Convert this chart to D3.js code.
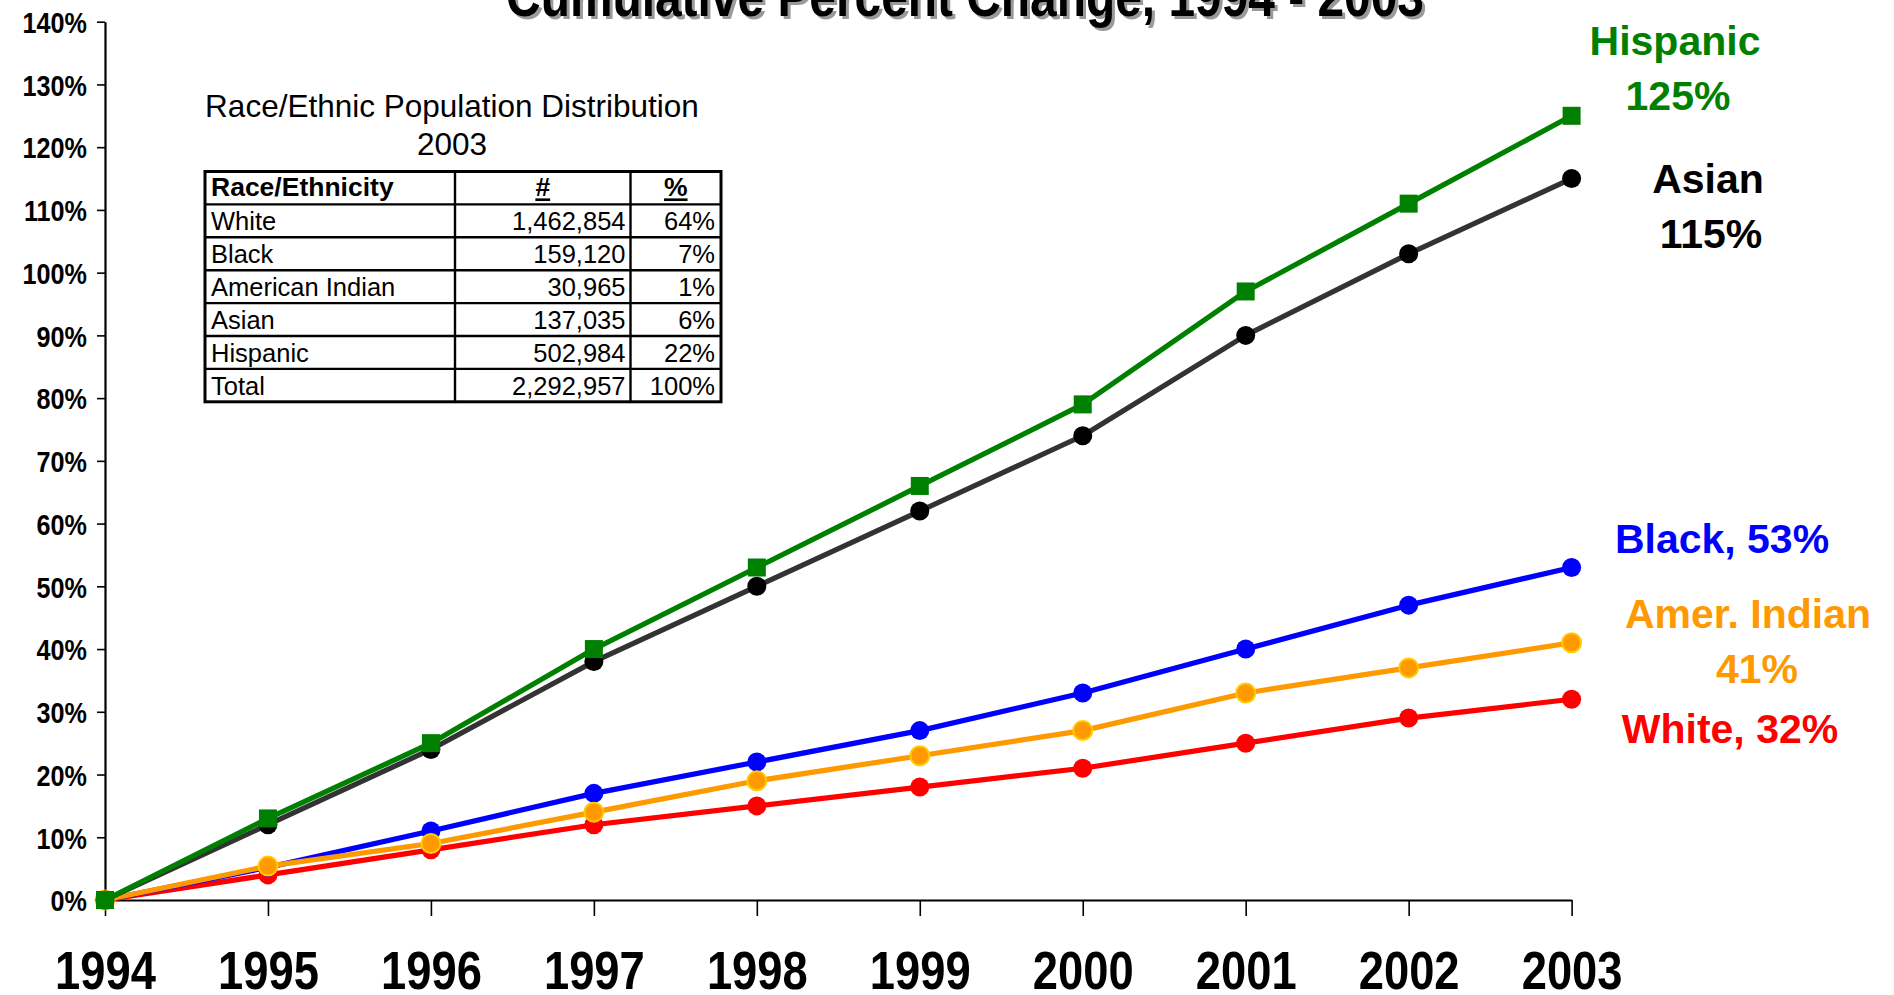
<!DOCTYPE html>
<html>
<head>
<meta charset="utf-8">
<script src="https://cdn.jsdelivr.net/npm/d3@7"></script>
<style>
  html, body { margin: 0; padding: 0; background: #fff; }
  svg { display: block; }
  text { font-family: "Liberation Sans", Arial, sans-serif; }
</style>
</head>
<body>
<svg id="chart" width="1894" height="995"></svg>
<script>
// ---------------- DATA ----------------
const years = ["1994","1995","1996","1997","1998","1999","2000","2001","2002","2003"];
const hispanic    = [0, 13, 25, 40, 53, 66, 79, 97, 111, 125];
const asian       = [0, 12, 24, 38, 50, 62, 74, 90, 103, 115];
const black       = [0, 5.2, 11, 17, 22, 27, 33, 40, 47, 53];
const amerIndian  = [0, 5.4, 9, 14, 19, 23, 27, 33, 37, 41];
const white       = [0, 4, 8, 12, 15, 18, 21, 25, 29, 32];
const yTicks      = [0, 10, 20, 30, 40, 50, 60, 70, 80, 90, 100, 110, 120, 130, 140];

const chartTitle  = "Cumulative Percent Change, 1994 - 2003";
const tableTitle  = ["Race/Ethnic Population Distribution", "2003"];
const tableHeader = ["Race/Ethnicity", "#", "%"];
const tableGroups = ["White", "Black", "American Indian", "Asian", "Hispanic", "Total"];
const tableCounts = ["1,462,854", "159,120", "30,965", "137,035", "502,984", "2,292,957"];
const tablePcts   = ["64%", "7%", "1%", "6%", "22%", "100%"];

const seriesNames  = ["White", "Black", "Amer. Indian", "Asian", "Hispanic"];
const seriesValues = [white, black, amerIndian, asian, hispanic];
const seriesLabels = [["White, 32%"], ["Black, 53%"], ["Amer. Indian", "41%"], ["Asian", "115%"], ["Hispanic", "125%"]];

// ---------------- STYLE / LAYOUT ----------------
const styles = {
  "White":        {line: "#FF0000", fill: "#FF0000", stroke: "#FF0000", marker: "circle", text: "#FF0000"},
  "Black":        {line: "#0000FF", fill: "#0000FF", stroke: "#0000FF", marker: "circle", text: "#0000FF"},
  "Amer. Indian": {line: "#FF9900", fill: "#FF9900", stroke: "#FFCC00", marker: "circle", text: "#FF9900"},
  "Asian":        {line: "#333333", fill: "#000000", stroke: "#000000", marker: "circle", text: "#000000"},
  "Hispanic":     {line: "#008000", fill: "#008000", stroke: "#008000", marker: "square", text: "#008000"}
};
const labelLayout = {
  "White":        [{x: 1730, y: 743}],
  "Black":        [{x: 1722, y: 553}],
  "Amer. Indian": [{x: 1748, y: 628}, {x: 1757, y: 683}],
  "Asian":        [{x: 1708, y: 193}, {x: 1711, y: 248}],
  "Hispanic":     [{x: 1675, y: 55},  {x: 1678, y: 110}]
};

const svg = d3.select("#chart");
const X0 = 105, X1 = 1571.6, Y0 = 900, Y1 = 21.7;
const SQX = 0.84; // horizontal squeeze for x-axis / title fonts
const SQY = 0.84; // horizontal squeeze for y-axis fonts

const x = d3.scalePoint().domain(years).range([X0, X1]);
const y = d3.scaleLinear().domain([0, 140]).range([Y0, Y1]);

// ---- Title (with shadow) ----
const titleG = svg.append("g");
[["#9a9a9a", 3], ["#000", 0]].forEach(([c, o]) => {
  titleG.append("text")
    .attr("transform", `translate(${965 + o},${16 + o}) scale(${SQX},1)`)
    .attr("text-anchor", "middle")
    .attr("font-weight", "bold")
    .attr("font-size", 57)
    .attr("fill", c)
    .text(chartTitle);
});

// ---- Axes ----
const yAxis = svg.append("g")
  .attr("transform", `translate(${X0},0)`)
  .call(d3.axisLeft(y).tickValues(yTicks).tickSize(8).tickSizeOuter(0).tickFormat(d => d + "%"));
yAxis.select(".domain").attr("stroke", "#000").attr("stroke-width", 2.2);
yAxis.selectAll(".tick line").attr("stroke", "#000").attr("stroke-width", 1.6);
yAxis.selectAll(".tick text")
  .attr("x", -18 / SQY)
  .attr("dy", "0.36em")
  .attr("transform", `scale(${SQY},1)`)
  .attr("font-family", "'Liberation Sans', Arial, sans-serif")
  .attr("font-weight", "bold")
  .attr("font-size", 30)
  .attr("fill", "#000");

const xAxis = svg.append("g")
  .attr("transform", `translate(0,${Y0})`)
  .call(d3.axisBottom(x).tickSize(16).tickSizeOuter(0));
xAxis.select(".domain").attr("stroke", "#000").attr("stroke-width", 2.2);
xAxis.selectAll(".tick line").attr("stroke", "#000").attr("stroke-width", 1.6);
xAxis.selectAll(".tick text")
  .attr("y", 89)
  .attr("dy", 0)
  .attr("transform", `scale(${SQX},1)`)
  .attr("x", 0)
  .attr("font-family", "'Liberation Sans', Arial, sans-serif")
  .attr("font-weight", "bold")
  .attr("font-size", 54)
  .attr("fill", "#000");

// ---- Lines & markers ----
const line = d3.line().x((d, i) => x(years[i])).y(d => y(d));
const order = ["White", "Black", "Amer. Indian", "Asian", "Hispanic"];
order.forEach(name => {
  const idx = seriesNames.indexOf(name);
  const vals = seriesValues[idx];
  const st = styles[name];
  const g = svg.append("g");
  g.append("path").datum(vals)
    .attr("d", line)
    .attr("fill", "none")
    .attr("stroke", st.line)
    .attr("stroke-width", 5.2)
    .attr("stroke-linejoin", "round");
  if (st.marker === "circle") {
    g.selectAll("circle").data(vals).join("circle")
      .attr("cx", (d, i) => x(years[i]))
      .attr("cy", d => y(d))
      .attr("r", 9.5)
      .attr("fill", st.fill)
      .attr("stroke", st.stroke)
      .attr("stroke-width", name === "Amer. Indian" ? 2 : 0);
  } else {
    g.selectAll("rect").data(vals).join("rect")
      .attr("x", (d, i) => x(years[i]) - 9)
      .attr("y", d => y(d) - 9)
      .attr("width", 18)
      .attr("height", 18)
      .attr("fill", st.fill);
  }
});

// ---- Series labels ----
seriesNames.forEach((name, i) => {
  seriesLabels[i].forEach((txt, j) => {
    const p = labelLayout[name][j];
    svg.append("text")
      .attr("x", p.x).attr("y", p.y)
      .attr("text-anchor", "middle")
      .attr("font-weight", "bold")
      .attr("font-size", 41)
      .attr("fill", styles[name].text)
      .text(txt);
  });
});

// ---- Inset table ----
const tb = svg.append("g");
tb.append("text").attr("x", 452).attr("y", 117).attr("text-anchor", "middle")
  .attr("font-size", 31.5).attr("fill", "#000").text(tableTitle[0]);
tb.append("text").attr("x", 452).attr("y", 155).attr("text-anchor", "middle")
  .attr("font-size", 31.5).attr("fill", "#000").text(tableTitle[1]);

const TL = 205, TR = 721, TT = 171.5, RH = 32.9;
const C1 = 455, C2 = 630.5;
const nRows = tableGroups.length + 1;
const TB = TT + nRows * RH;

for (let r = 1; r < nRows; r++) {
  tb.append("line").attr("x1", TL).attr("x2", TR)
    .attr("y1", TT + r * RH).attr("y2", TT + r * RH)
    .attr("stroke", "#000").attr("stroke-width", 2.4);
}
[C1, C2].forEach(cx => {
  tb.append("line").attr("x1", cx).attr("x2", cx).attr("y1", TT).attr("y2", TB)
    .attr("stroke", "#000").attr("stroke-width", 2.4);
});
tb.append("rect").attr("x", TL).attr("y", TT).attr("width", TR - TL).attr("height", TB - TT)
  .attr("fill", "none").attr("stroke", "#000").attr("stroke-width", 3);

const hy = TT + RH - 8;
tb.append("text").attr("x", TL + 6).attr("y", hy).attr("font-size", 26.5).attr("font-weight", "bold").text(tableHeader[0]);
[[tableHeader[1], (C1 + C2) / 2], [tableHeader[2], (C2 + TR) / 2]].forEach(([t, cx]) => {
  tb.append("text").attr("x", cx).attr("y", hy).attr("text-anchor", "middle")
    .attr("font-size", 26.5).attr("font-weight", "bold").attr("text-decoration", "underline").text(t);
});
tableGroups.forEach((g, i) => {
  const by = TT + (i + 2) * RH - 7;
  tb.append("text").attr("x", TL + 6).attr("y", by).attr("font-size", 25.5).text(g);
  tb.append("text").attr("x", C2 - 5).attr("y", by).attr("text-anchor", "end").attr("font-size", 25.5).text(tableCounts[i]);
  tb.append("text").attr("x", TR - 6).attr("y", by).attr("text-anchor", "end").attr("font-size", 25.5).text(tablePcts[i]);
});
</script>
</body>
</html>
